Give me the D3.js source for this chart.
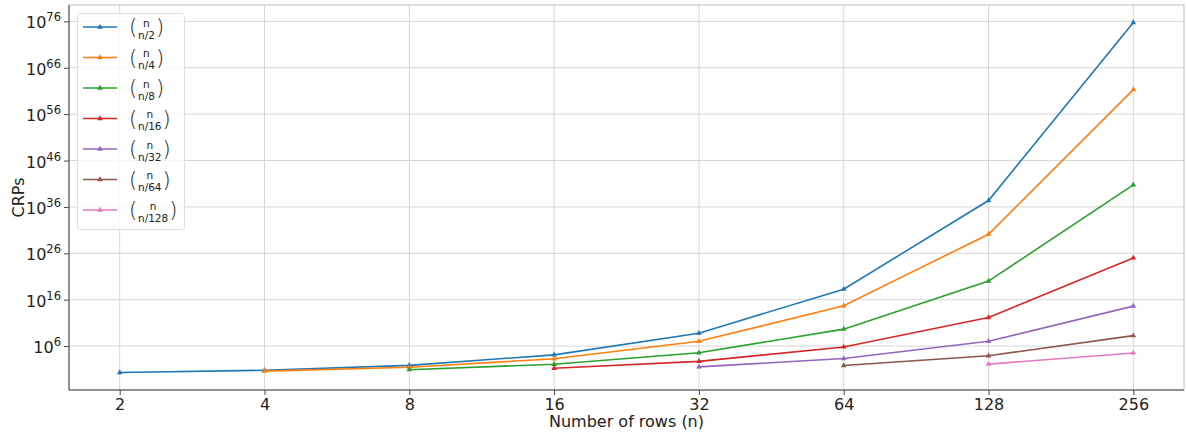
<!DOCTYPE html>
<html>
<head>
<meta charset="utf-8">
<script src="https://cdn.jsdelivr.net/npm/d3@7"></script>
<style>
  body { margin: 0; background: #fff; }
  svg { font-family: "DejaVu Sans", sans-serif; }
</style>
</head>
<body>
<svg id="chart" width="1186" height="432"></svg>
<script>
// number of rows on the x axis
const rows = [2, 4, 8, 16, 32, 64, 128, 256];
// legend labels (bottom of the binomial)
const seriesLabels = ["n/2", "n/4", "n/8", "n/16", "n/32", "n/64", "n/128"];
// CRP counts, aligned with rows (null = not plotted)
const crpHalf = [2, 6, 70, 12870, 6.01e8, 1.83e18, 2.4e37, 5.77e75];
const crpQuarter = [null, 4, 28, 1820, 1.05e7, 4.89e14, 1.3e30, 2.0e61];
const crpEighth = [null, null, 8, 120, 35960, 4.43e9, 1.0e20, 5.8e40];
const crpSixteenth = [null, null, null, 16, 496, 635376, 1.43e12, 1.0e25];
const crp32nd = [null, null, null, null, 32, 2016, 1.07e7, 4.09e14];
const crp64th = [null, null, null, null, null, 64, 8128, 1.75e8];
const crp128th = [null, null, null, null, null, null, 128, 32640];
const yTickExp = [6, 16, 26, 36, 46, 56, 66, 76];

const allSeries = [crpHalf, crpQuarter, crpEighth, crpSixteenth, crp32nd, crp64th, crp128th];
const colors = ["#1f77b4", "#ff7f0e", "#2ca02c", "#d62728", "#9467bd", "#8c564b", "#e377c2"];

const margin = {left: 69, right: 2, top: 5, bottom: 42};
const W = 1186, H = 432;
const svg = d3.select("#chart");

// matplotlib-ish 5% margins in log space
const xLo = Math.log2(2), xHi = Math.log2(256), xPad = (xHi - xLo) * 0.05;
const x = d3.scaleLog().base(2)
    .domain([Math.pow(2, xLo - xPad), Math.pow(2, xHi + xPad)])
    .range([margin.left, W - margin.right]);
const yLo = Math.log10(2), yHi = Math.log10(5.77e75), yPad = (yHi - yLo) * 0.05;
const y = d3.scaleLog()
    .domain([Math.pow(10, yLo - yPad), Math.pow(10, yHi + yPad)])
    .range([H - margin.bottom, margin.top]);

const plotL = margin.left, plotR = W - margin.right, plotT = margin.top, plotB = H - margin.bottom;

// grid
svg.append("g").selectAll("line").data(rows).join("line")
    .attr("x1", d => x(d)).attr("x2", d => x(d))
    .attr("y1", plotT).attr("y2", plotB)
    .attr("stroke", "#d6d6d6").attr("stroke-width", 1);
svg.append("g").selectAll("line").data(yTickExp).join("line")
    .attr("x1", plotL).attr("x2", plotR)
    .attr("y1", d => y(Math.pow(10, d))).attr("y2", d => y(Math.pow(10, d)))
    .attr("stroke", "#d6d6d6").attr("stroke-width", 1);

// spines
svg.append("rect").attr("x", plotL).attr("y", plotT)
    .attr("width", plotR - plotL).attr("height", plotB - plotT)
    .attr("fill", "none").attr("stroke", "#bbb").attr("stroke-width", 1);
svg.append("line").attr("x1", plotL).attr("x2", plotL).attr("y1", plotT).attr("y2", plotB)
    .attr("stroke", "#444").attr("stroke-width", 1);
svg.append("line").attr("x1", plotL).attr("x2", plotR).attr("y1", plotB).attr("y2", plotB)
    .attr("stroke", "#444").attr("stroke-width", 1);

// x axis
const xAxis = d3.axisBottom(x).tickValues(rows).tickFormat(d3.format("d")).tickSize(5).tickPadding(4);
const gx = svg.append("g").attr("transform", `translate(0,${plotB})`).call(xAxis);
gx.select(".domain").remove();
gx.selectAll("line").attr("stroke", "#444");
gx.selectAll("text").attr("font-size", 16).attr("fill", "#222").attr("font-family", "DejaVu Sans");

// y axis
const yAxis = d3.axisLeft(y).tickValues(yTickExp.map(e => Math.pow(10, e))).tickFormat("").tickSize(5);
const gy = svg.append("g").attr("transform", `translate(${plotL},0)`).call(yAxis);
gy.select(".domain").remove();
gy.selectAll("line").attr("stroke", "#444");
const yLab = svg.append("g").selectAll("text").data(yTickExp).join("text")
    .attr("x", plotL - 8).attr("y", d => y(Math.pow(10, d)) + 7)
    .attr("text-anchor", "end").attr("font-size", 16).attr("fill", "#222");
yLab.append("tspan").text("10");
yLab.append("tspan").attr("font-size", 11.5).attr("dy", -7).text(d => d);

// axis titles
svg.append("text").attr("x", (plotL + plotR) / 2).attr("y", H - 5)
    .attr("text-anchor", "middle").attr("font-size", 16).attr("fill", "#222")
    .text("Number of rows (n)");
svg.append("text").attr("transform", `translate(24,${(plotT + plotB) / 2}) rotate(-90)`)
    .attr("text-anchor", "middle").attr("font-size", 16).attr("fill", "#222")
    .text("CRPs");

// lines + triangle markers
const line = d3.line().x(d => x(d.n)).y(d => y(d.v));
const tri = d3.symbol().type(d3.symbolTriangle).size(14);
allSeries.forEach((s, i) => {
    const pts = rows.map((n, j) => ({n: n, v: s[j]})).filter(d => d.v != null);
    const g = svg.append("g");
    g.append("path").datum(pts).attr("d", line)
        .attr("fill", "none").attr("stroke", colors[i]).attr("stroke-width", 1.6);
    g.selectAll("path.m").data(pts).join("path").attr("class", "m")
        .attr("d", tri).attr("transform", d => `translate(${x(d.n)},${y(d.v)})`)
        .attr("fill", colors[i]);
});

// legend (binomial labels: n over n/k)
const leg = svg.append("g");
leg.append("rect").attr("x", 77.5).attr("y", 13.5).attr("width", 107).attr("height", 216)
    .attr("rx", 3).attr("fill", "#fff").attr("fill-opacity", 0.8).attr("stroke", "#ddd");
seriesLabels.forEach((lab, i) => {
    const cy = 27 + i * 30.5;
    leg.append("line").attr("x1", 83).attr("x2", 117).attr("y1", cy).attr("y2", cy)
        .attr("stroke", colors[i]).attr("stroke-width", 1.6);
    leg.append("path").attr("d", tri).attr("transform", `translate(100,${cy})`).attr("fill", colors[i]);
    leg.append("text").attr("x", 129).attr("y", cy + 7).attr("font-size", 21)
        .attr("font-weight", 200).attr("fill", "#222").text("(");
    const bot = leg.append("text").attr("x", 138).attr("y", cy + 11.5).attr("font-size", 10.5)
        .attr("fill", "#222").text(lab);
    const w = bot.node().getComputedTextLength();
    leg.append("text").attr("x", 138 + w / 2).attr("y", cy - 0.5).attr("font-size", 10.5)
        .attr("text-anchor", "middle").attr("fill", "#222").text("n");
    leg.append("text").attr("x", 139 + w).attr("y", cy + 7).attr("font-size", 21)
        .attr("font-weight", 200).attr("fill", "#222").text(")");
});
</script>
</body>
</html>
